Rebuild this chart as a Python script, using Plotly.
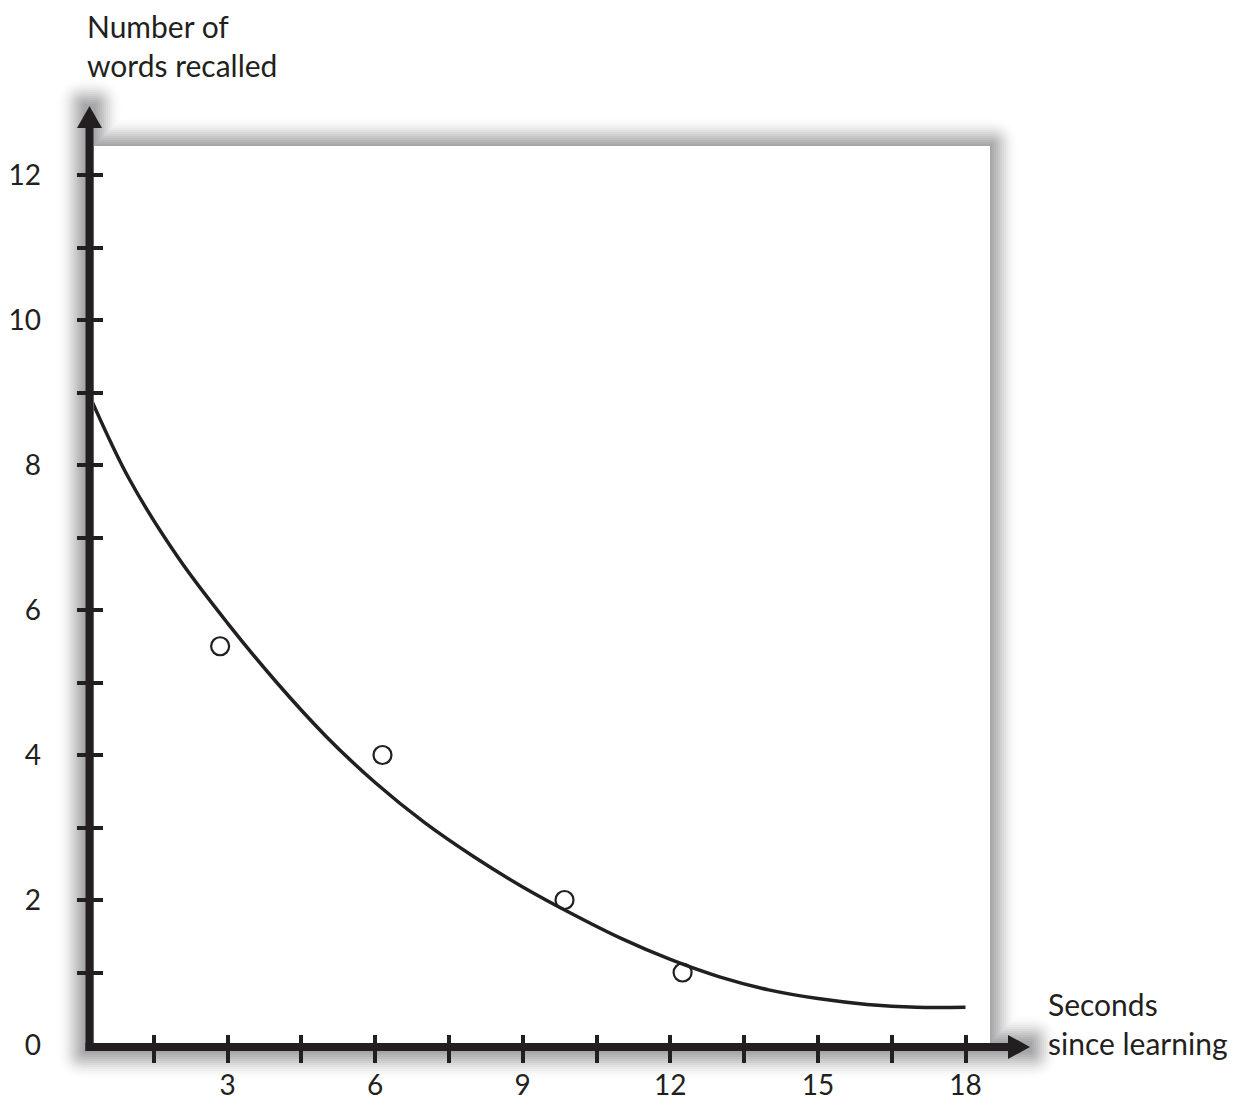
import plotly.graph_objects as go

# fitted forgetting curve
curve_x = [0.2, 1, 2, 3, 4, 5, 6, 7, 8, 9, 10, 11, 12, 13, 14, 15, 16, 17, 18]
curve_y = [8.95, 7.81, 6.72, 5.82, 5.00, 4.26, 3.62, 3.07, 2.60, 2.18, 1.81,
           1.47, 1.18, 0.94, 0.76, 0.64, 0.56, 0.52, 0.52]

# observed recall
obs_x = [2.85, 6.15, 9.85, 12.25]
obs_y = [5.5, 4, 2, 1]

# ticks and labels
x_tick_vals = [1.5, 3, 4.5, 6, 7.5, 9, 10.5, 12, 13.5, 15, 16.5, 18]
x_label_vals = [3, 6, 9, 12, 15, 18]
y_tick_vals = [1, 2, 3, 4, 5, 6, 7, 8, 9, 10, 11, 12]
y_label_vals = [0, 2, 4, 6, 8, 10, 12]

x_title = "Seconds<br>since learning"
y_title = "Number of<br>words recalled"

INK = "#231f20"
FONT = "Lato"
FS_TICK = 28
FS_TITLE = 30

# page is 1244x1113, the body keeps an 8px margin round the figure
PAGE_W, PAGE_H, OFF = 1244, 1113, 8
FIG_W, FIG_H = PAGE_W - 2 * OFF, PAGE_H - 2 * OFF

# plot area in page pixels
L, R, T, B = 94, 990, 146, 1046
W, H = R - L, B - T


def px(x):
    return (x - L) / W


def py(y):
    return (B - y) / H


def rounded_path(pts, r, convex):
    # closed path, convex corners rounded with radius r
    n = len(pts)
    out = []
    for i in range(n):
        cx, cy = pts[i]
        if not convex[i] or r <= 0:
            out.append(("L", (cx, cy)))
            continue
        ax, ay = pts[i - 1]
        bx, by = pts[(i + 1) % n]

        def toward(qx, qy):
            dx, dy = qx - cx, qy - cy
            ln = (dx * dx + dy * dy) ** 0.5
            return cx + r * dx / ln, cy + r * dy / ln

        p1 = toward(ax, ay)
        p2 = toward(bx, by)
        out.append(("L", p1))
        out.append(("Q", (cx, cy), p2))
    s = ""
    for j, seg in enumerate(out):
        if seg[0] == "L":
            cmd = "M" if j == 0 else "L"
            s += f"{cmd} {px(seg[1][0]):.5f},{py(seg[1][1]):.5f} "
        else:
            s += (f"Q {px(seg[1][0]):.5f},{py(seg[1][1]):.5f} "
                  f"{px(seg[2][0]):.5f},{py(seg[2][1]):.5f} ")
    return s + "Z"


fig = go.Figure()

fig.add_trace(go.Scatter(
    x=curve_x, y=curve_y, mode="lines", xaxis="x2", yaxis="y2",
    line=dict(color=INK, width=3.5, shape="spline", smoothing=1.0),
    hoverinfo="skip", showlegend=False,
))
fig.add_trace(go.Scatter(
    x=obs_x, y=obs_y, mode="markers",
    marker=dict(symbol="circle", size=18, color="white",
                line=dict(color=INK, width=2.2)),
    showlegend=False,
))

x_range = [(L - 79.9) / 49.2, (R - 79.9) / 49.2]
y_range = [(1045 - B) / 72.5, (1045 - T) / 72.5]

common = dict(showgrid=False, zeroline=False, showline=False,
              automargin=False, fixedrange=True)

fig.update_layout(
    width=FIG_W, height=FIG_H,
    margin=dict(l=L - OFF, r=FIG_W - (R - OFF), t=T - OFF,
                b=FIG_H - (B - OFF), pad=0, autoexpand=False),
    paper_bgcolor="white", plot_bgcolor="white",
    font=dict(family=FONT, size=FS_TICK, color=INK),
    xaxis=dict(range=x_range, tickvals=x_label_vals,
               ticktext=[str(v) for v in x_label_vals],
               ticks="", ticklabelstandoff=20, **common),
    xaxis2=dict(range=x_range, overlaying="x", anchor="free",
                position=py(1034), tickvals=x_tick_vals, ticks="outside",
                ticklen=28, tickwidth=4, tickcolor=INK,
                showticklabels=False, **common),
    yaxis=dict(range=y_range, tickvals=y_label_vals,
               ticktext=[str(v) for v in y_label_vals],
               ticks="", ticklabelstandoff=52, **common),
    yaxis2=dict(range=y_range, overlaying="y", anchor="free",
                position=px(103), tickvals=y_tick_vals, ticks="outside",
                ticklen=26, tickwidth=4, tickcolor=INK,
                showticklabels=False, **common),
)

shapes = []

# soft drop shadow around the panel and axes
shadow_alpha = {28: 0.005, 26: 0.008, 24: 0.012, 22: 0.018, 20: 0.022,
                18: 0.03, 16: 0.035, 14: 0.04, 12: 0.045, 10: 0.05,
                8: 0.05, 6: 0.05, 4: 0.05, 2: 0.05}
convex = [True, True, False, True, False, True, True, True]
for d, a in shadow_alpha.items():
    pts = [(85.5 - d, 106 - d), (94 + d, 106 - d), (94 + d, 146 - d),
           (990 + d, 146 - d), (990 + d, 1043 - d), (1030 + d, 1043 - d),
           (1030 + d, 1051 + d), (85.5 - d, 1051 + d)]
    shapes.append(dict(type="path", path=rounded_path(pts, d, convex),
                       xref="paper", yref="paper",
                       fillcolor=f"rgba(30,30,40,{a})", line=dict(width=0),
                       layer="below"))

# white panel
shapes.append(dict(type="rect", xref="paper", yref="paper",
                   x0=0, x1=1, y0=0, y1=1, fillcolor="white",
                   line=dict(width=0), layer="below"))

# axis lines
shapes.append(dict(type="line", xref="paper", yref="paper",
                   x0=px(89.5), x1=px(89.5), y0=py(1051), y1=py(126),
                   line=dict(color=INK, width=8), layer="above"))
shapes.append(dict(type="line", xref="paper", yref="paper",
                   x0=px(85.5), x1=px(1010), y0=py(1047), y1=py(1047),
                   line=dict(color=INK, width=8), layer="above"))

# arrow heads
up = [(89.5, 106), (102, 128), (77, 128)]
right = [(1030, 1047), (1008, 1035), (1008, 1059)]
for tri in (up, right):
    path = "M " + " L ".join(f"{px(a):.5f},{py(b):.5f}" for a, b in tri) + " Z"
    shapes.append(dict(type="path", path=path, xref="paper", yref="paper",
                       fillcolor=INK, line=dict(width=0), layer="above"))

fig.update_layout(shapes=shapes)

# axis titles
fig.add_annotation(text=y_title, xref="paper", yref="paper",
                   x=px(85), y=py(45), xanchor="left", yanchor="middle",
                   align="left", showarrow=False,
                   font=dict(size=FS_TITLE, family=FONT, color=INK))
fig.add_annotation(text=x_title, xref="paper", yref="paper",
                   x=px(1046), y=py(1023), xanchor="left", yanchor="middle",
                   align="left", showarrow=False,
                   font=dict(size=FS_TITLE, family=FONT, color=INK))

fig.write_html("out.html")
